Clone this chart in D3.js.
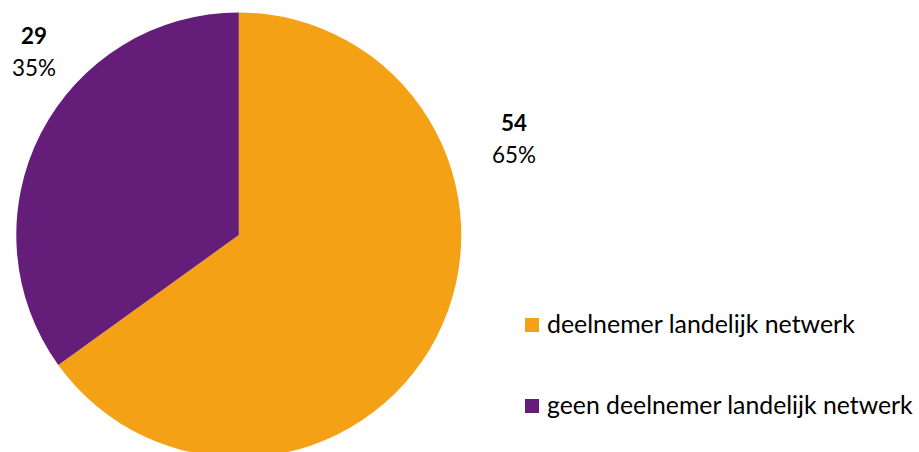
<!DOCTYPE html>
<html><head><meta charset="utf-8">
<script src="https://cdn.jsdelivr.net/npm/d3@7/dist/d3.min.js"></script>
<style>html,body{margin:0;padding:0;background:#fff;}svg{display:block;}</style>
</head><body>
<svg id="c" width="919" height="452"></svg>
<script>
const categories = ["deelnemer landelijk netwerk", "geen deelnemer landelijk netwerk"];
const values = [54, 29];
const percentLabels = ["65%", "35%"];
const colors = ["#F4A116", "#641E79"];

const svg = d3.select("#c");
const font = "Lato, 'Open Sans', sans-serif";
const cx = 238.8, cy = 235, r = 222.5;

const pie = d3.pie().sort(null).value(d => d)(values);
const arc = d3.arc().innerRadius(0).outerRadius(r);
const g = svg.append("g").attr("transform", `translate(${cx},${cy})`);
g.selectAll("path").data(pie).enter().append("path")
  .attr("d", arc).attr("fill", (d, i) => colors[i]);

function fit(t, base, target) {
  const w = t.node().getComputedTextLength();
  t.attr("font-size", base * target / w);
}

// data labels
const labelPos = [[514, 131, 163], [34, 44, 76]];
pie.forEach((d, i) => {
  const [x, y1, y2] = labelPos[i];
  const a = svg.append("text").attr("x", x).attr("y", y1).attr("text-anchor", "middle")
    .attr("font-family", font).attr("font-weight", "bold").attr("font-size", 22)
    .attr("fill", "#000").text(values[i]);
  fit(a, 22, 26);
  const b = svg.append("text").attr("x", x).attr("y", y2).attr("text-anchor", "middle")
    .attr("font-family", font).attr("font-size", 22)
    .attr("fill", "#000").text(percentLabels[i]);
  fit(b, 22, 44);
});

// legend
const leg = svg.append("g");
const legY = [318, 399];
const targetW = [308, 366];
categories.forEach((c, i) => {
  leg.append("rect").attr("x", 525).attr("y", legY[i]).attr("width", 14).attr("height", 14)
    .attr("fill", colors[i]);
  const t = leg.append("text").attr("x", 547).attr("y", legY[i] + 15)
    .attr("font-family", font).attr("font-size", 21).attr("fill", "#000").text(c);
  fit(t, 21, targetW[i]);
});
</script>
</body></html>
